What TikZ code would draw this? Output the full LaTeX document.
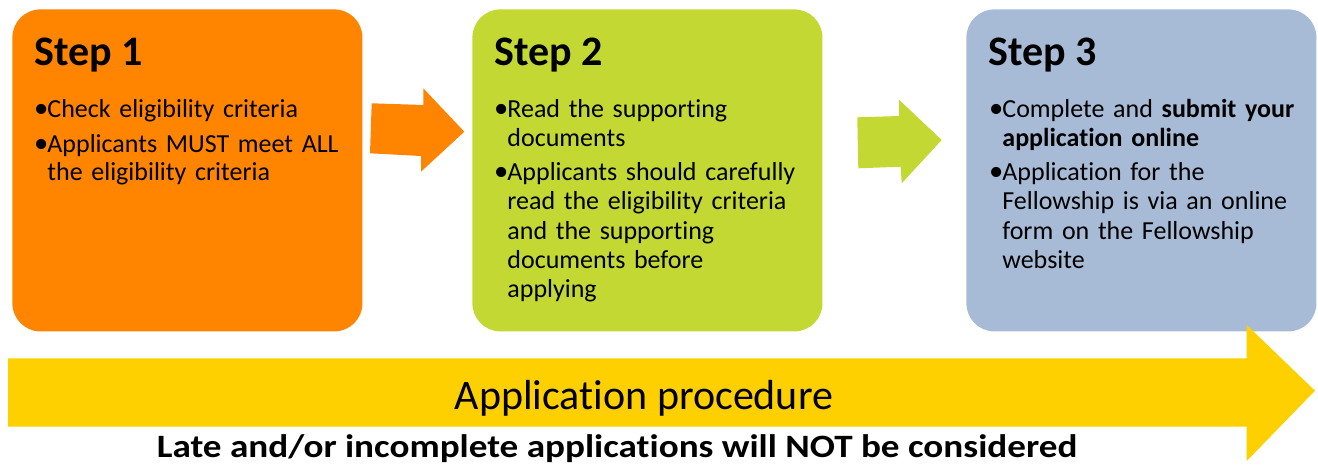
\documentclass[tikz,border=0pt]{standalone}
\usepackage{fontspec}
\setmainfont{Carlito}[Ligatures=NoCommon]
\usepackage{graphicx}
\usetikzlibrary{calc,positioning}

\definecolor{stepone}{RGB}{255,132,0}
\definecolor{steptwo}{RGB}{196,216,52}
\definecolor{stepthree}{RGB}{168,187,214}
\definecolor{procyellow}{RGB}{255,208,0}

% one bullet with a hanging indent
\newcommand{\bulletitem}[1]{\hangindent=6pt\hangafter=1\noindent\makebox[6pt][l]{\kern-0.6pt\scalebox{1.1}{\textbullet}}#1\par\vskip3pt}

\tikzset{
	stepbox/.style={rectangle,rounded corners=14pt,minimum width=175pt,minimum height=161pt,inner sep=0pt,anchor=north west},
	steptitle/.style={anchor=base west,inner sep=0pt,font=\fontsize{21pt}{25pt}\selectfont\bfseries},
	steptext/.style={anchor=base west,inner sep=0pt,text width=165pt,align=left,font=\fontsize{13pt}{14.5pt}\selectfont}
}

\begin{document}
\begin{tikzpicture}[x=0.5pt,y=-0.5pt]
\useasboundingbox (0,0) rectangle (1318,466);
% the three steps
\node [stepbox,fill=stepone] (step1) at (12,9) {};
\node [stepbox,fill=steptwo] (step2) at (472,9) {};
\node [stepbox,fill=stepthree] (step3) at (966,9) {};
% block arrows between the steps
\fill [stepone] (371.7,103.3) -- (423.3,105) -- (423.3,88.3) -- (464.3,131.7) -- (421,171.7) -- (421,156) -- (370,153.3) -- cycle;
\fill [steptwo] (857.3,117.3) -- (899,116) -- (899,99.7) -- (941.7,140) -- (901.7,183.3) -- (900.7,166.7) -- (858.3,168.3) -- cycle;
% long arrow underneath
\fill [procyellow] (8,358.3) -- (1246.7,358.3) -- (1246.7,325) -- (1315,390.7) -- (1246.7,461) -- (1246.7,426.7) -- (8,426.7) -- cycle;
\foreach \s in {1,2,3}
	\node [steptitle] (title\s) at ($(step\s.north west)+(22,56)$) {Step \s};
\node [steptext] (text1) at ($(step1.north west)+(23,108)$) {%
	\bulletitem{Check eligibility criteria}%
	\bulletitem{Applicants MUST meet ALL\newline the eligibility criteria}};
\node [steptext] (text2) at ($(step2.north west)+(23,108)$) {%
	\bulletitem{Read the supporting\newline documents}%
	\bulletitem{Applicants should carefully\newline read the eligibility criteria\newline and the supporting\newline documents before\newline applying}};
\node [steptext] (text3) at ($(step3.north west)+(24,108)$) {%
	\bulletitem{Complete and \textbf{submit your}\newline \textbf{application online}}%
	\bulletitem{Application for the\newline Fellowship is via an online\newline form on the Fellowship\newline website}};
\node [anchor=base,inner sep=0pt,font=\fontsize{21pt}{25pt}\selectfont] (proclabel) at (644,409) {Application procedure};
\node [anchor=base,inner sep=0pt,font=\fontsize{16.3pt}{19pt}\selectfont\bfseries] (latenote) at (617,457) {\scalebox{1.14}[1]{Late and/or incomplete applications will NOT be considered}};
\end{tikzpicture}
\end{document}
